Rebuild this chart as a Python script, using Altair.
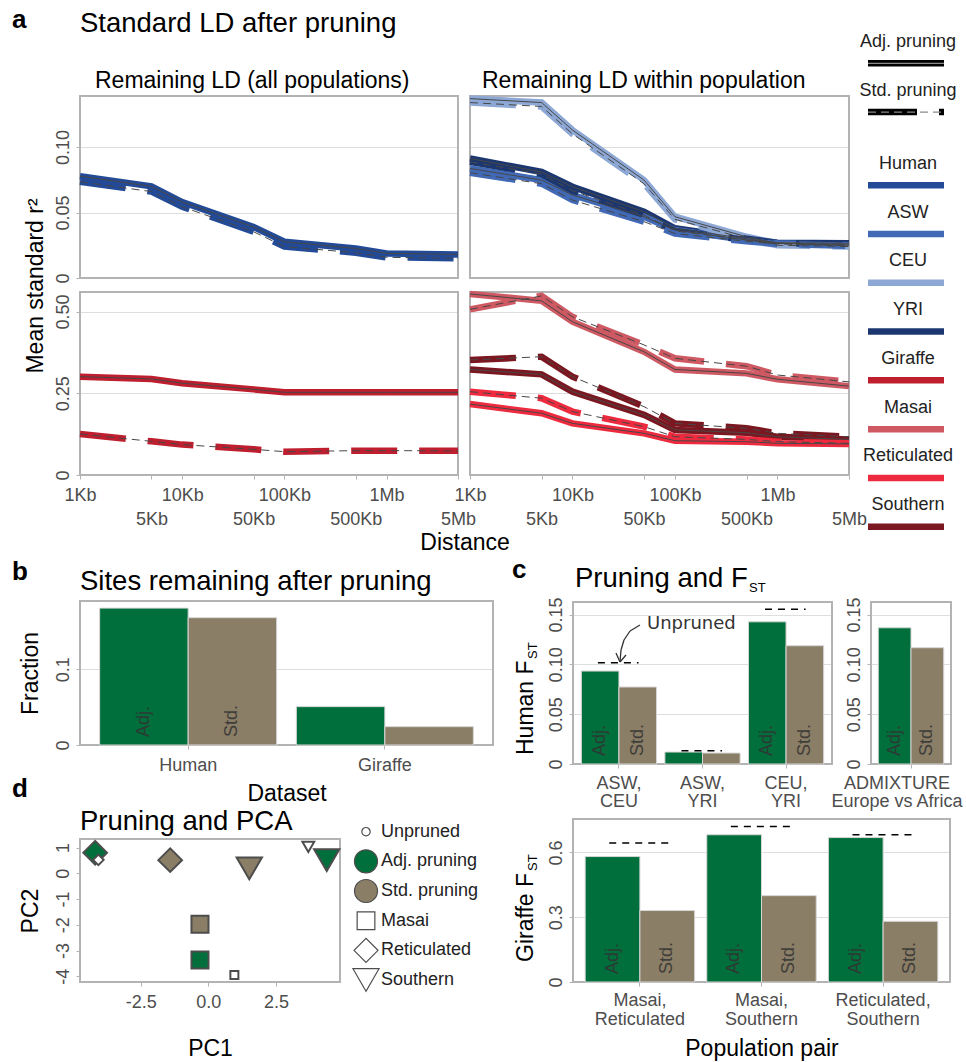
import altair as alt
import pandas as pd

FONT = "Liberation Sans"
AXIS_TEXT = "#4d4d4d"
FRAME = "#b3b3b3"
GRID = "#dedede"
THIN = "#474747"
GREEN = "#006f3b"
TAN = "#8b7e66"
W, H = 966, 1062

# ---------------- panel a : LD decay ----------------
distances = [1000, 5000, 10000, 50000, 100000, 500000, 1000000, 5000000]
distance_labels = ["1Kb", "5Kb", "10Kb", "50Kb", "100Kb", "500Kb", "1Mb", "5Mb"]

populations = ["Human", "ASW", "CEU", "YRI", "Giraffe", "Masai", "Reticulated", "Southern"]
population_colors = ["#234a96", "#4169b5", "#8ea8d6", "#1c3770",
                     "#be1e2d", "#cf5962", "#ee2a3e", "#7b1720"]
prunings = ["Adj.", "Std."]

human_adj = [0.0778, 0.0700, 0.0580, 0.0390, 0.0277, 0.0226, 0.0188, 0.0180]
human_std = [0.0735, 0.0660, 0.0544, 0.0353, 0.0240, 0.0193, 0.0158, 0.0150]
asw_adj = [0.0837, 0.0748, 0.0634, 0.0468, 0.0366, 0.0290, 0.0265, 0.0250]
asw_std = [0.0804, 0.0720, 0.0595, 0.0430, 0.0340, 0.0280, 0.0260, 0.0245]
ceu_adj = [0.1370, 0.1340, 0.1130, 0.0748, 0.0468, 0.0315, 0.0265, 0.0252]
ceu_std = [0.1340, 0.1310, 0.1100, 0.0720, 0.0448, 0.0300, 0.0250, 0.0240]
yri_adj = [0.0913, 0.0810, 0.0697, 0.0506, 0.0380, 0.0300, 0.0270, 0.0265]
yri_std = [0.0888, 0.0794, 0.0667, 0.0480, 0.0360, 0.0290, 0.0265, 0.0260]
giraffe_adj = [0.301, 0.294, 0.281, 0.262, 0.253, 0.253, 0.253, 0.253]
giraffe_std = [0.1255, 0.103, 0.093, 0.0786, 0.0714, 0.0745, 0.0745, 0.074]
masai_adj = [0.554, 0.533, 0.469, 0.377, 0.323, 0.311, 0.293, 0.272]
masai_std = [0.507, 0.548, 0.484, 0.398, 0.357, 0.333, 0.306, 0.285]
reticulated_adj = [0.217, 0.189, 0.158, 0.1275, 0.105, 0.102, 0.097, 0.095]
reticulated_std = [0.255, 0.235, 0.194, 0.148, 0.117, 0.109, 0.102, 0.097]
southern_adj = [0.323, 0.308, 0.255, 0.184, 0.138, 0.1295, 0.117, 0.109]
southern_std = [0.352, 0.362, 0.301, 0.209, 0.158, 0.143, 0.1275, 0.117]

ld_series = {
    ("Human", "Adj."): human_adj, ("Human", "Std."): human_std,
    ("ASW", "Adj."): asw_adj, ("ASW", "Std."): asw_std,
    ("CEU", "Adj."): ceu_adj, ("CEU", "Std."): ceu_std,
    ("YRI", "Adj."): yri_adj, ("YRI", "Std."): yri_std,
    ("Giraffe", "Adj."): giraffe_adj, ("Giraffe", "Std."): giraffe_std,
    ("Masai", "Adj."): masai_adj, ("Masai", "Std."): masai_std,
    ("Reticulated", "Adj."): reticulated_adj, ("Reticulated", "Std."): reticulated_std,
    ("Southern", "Adj."): southern_adj, ("Southern", "Std."): southern_std,
}

ld_top_ticks = [0, 0.05, 0.1]
ld_top_tick_labels = ["0", "0.05", "0.10"]
ld_bottom_ticks = [0, 0.25, 0.5]
ld_bottom_tick_labels = ["0", "0.25", "0.50"]

# ---------------- panel b : sites remaining ----------------
datasets = ["Human", "Giraffe"]
fraction_adj = [0.1806, 0.0506]
fraction_std = [0.168, 0.0242]
fraction_labelled = [True, False]
fraction_ticks = [0, 0.1]
fraction_tick_labels = ["0", "0.1"]

# ---------------- panel c : Fst ----------------
human_pairs = ["ASW,\nCEU", "ASW,\nYRI", "CEU,\nYRI"]
human_fst_adj = [0.0933, 0.012, 0.1427]
human_fst_std = [0.0773, 0.011, 0.1187]
human_fst_unpruned = [0.1017, 0.0133, 0.1553]
human_fst_labelled = [True, False, True]

admixture_pairs = ["ADMIXTURE\nEurope vs Africa"]
admixture_fst_adj = [0.1367]
admixture_fst_std = [0.1167]
admixture_labelled = [True]
human_fst_ticks = [0, 0.05, 0.1, 0.15]
human_fst_tick_labels = ["0", "0.05", "0.10", "0.15"]

giraffe_pairs = ["Masai,\nReticulated", "Masai,\nSouthern", "Reticulated,\nSouthern"]
giraffe_fst_adj = [0.581, 0.682, 0.669]
giraffe_fst_std = [0.331, 0.400, 0.281]
giraffe_fst_unpruned = [0.644, 0.720, 0.682]
giraffe_fst_labelled = [True, True, True]
giraffe_fst_ticks = [0, 0.3, 0.6]
giraffe_fst_tick_labels = ["0", "0.3", "0.6"]

# ---------------- panel d : PCA ----------------
pca_population = ["Reticulated", "Southern", "Masai",
                  "Reticulated", "Southern", "Masai",
                  "Reticulated", "Southern", "Masai"]
pca_treatment = ["Adj. pruning"] * 3 + ["Std. pruning"] * 3 + ["Unpruned"] * 3
pc1 = [-4.18, 4.37, -0.31, -1.41, 1.51, -0.31, -4.06, 3.69, 0.96]
pc2 = [0.80, 0.51, -3.37, 0.51, 0.19, -1.98, 0.52, 1.02, -3.95]
pca_x_ticks = [-2.5, 0, 2.5]
pca_x_tick_labels = ["-2.5", "0.0", "2.5"]
pca_y_ticks = [1, 0, -1, -2, -3, -4]
pca_y_tick_labels = ["1", "0", "-1", "-2", "-3", "-4"]
treatments = ["Unpruned", "Adj. pruning", "Std. pruning"]
treatment_colors = ["white", GREEN, TAN]
pca_populations = ["Masai", "Reticulated", "Southern"]
pca_shapes = ["square", "diamond", "triangle-down"]
pca_big_size = [290, 560, 640]
pca_small_size = [64, 110, 140]

# ---------------- layout: plot boxes (x0, x1, top, bottom) in page pixels ----------------
BOX = {
    "a_tl": (80, 458, 96, 278), "a_tr": (470, 849, 96, 278),
    "a_bl": (80, 458, 292, 475), "a_br": (470, 849, 292, 475),
    "b": (80, 493, 601, 745),
    "c_top": (573, 832, 602, 764), "c_adm": (871, 951, 602, 764),
    "c_bot": (573, 950, 819, 982),
    "d": (80, 340, 839, 982),
}


# ---------------- helpers ----------------
def js_lists(values, labels):
    vals = "[" + ",".join(repr(v) for v in values) + "]"
    labs = "[" + ",".join("'" + s + "'" for s in labels) + "]"
    return vals, labs


def label_expr(values, labels):
    vals, labs = js_lists(values, labels)
    return f"{labs}[indexof({vals}, datum.value)]"


def two_row_label_expr(values, labels):
    vals, labs = js_lists(values, labels)
    i = f"indexof({vals}, datum.value)"
    return f"{i} % 2 == 1 ? ['', {labs}[{i}]] : {labs}[{i}]"


def bottom_axis(box, **kw):
    return alt.Axis(orient="bottom", offset=box[3] - H, labelAngle=0, labelOverlap=False,
                    labelFlush=False, grid=False, **kw)


def left_axis(box, values, labels, grid=True, **kw):
    return alt.Axis(orient="left", offset=-box[0], values=values,
                    labelExpr=label_expr(values, labels), labelAngle=270,
                    labelAlign="center", labelBaseline="bottom", labelPadding=4,
                    labelOverlap=False, grid=grid, **kw)


def grid_only_axis(box, values):
    return alt.Axis(orient="left", offset=-box[0], values=values, labels=False, ticks=False,
                    grid=True, title=None)


def yscale(box, domain):
    return alt.Scale(domain=domain, range=[box[3], box[2]], nice=False, zero=False)


def text_layer(text, x, y, size, color="black", weight="normal", angle=0, font=FONT):
    return alt.Chart(pd.DataFrame({"t": [text]})).mark_text(
        font=font, fontSize=size, fontWeight=weight, color=color, align="left",
        baseline="alphabetic", angle=angle
    ).encode(x=alt.value(x), y=alt.value(y), text="t:N")


def segment(x1, y1, x2, y2):
    return alt.Chart(pd.DataFrame({"k": [0]})).mark_rule(color="#333333", strokeWidth=1.3).encode(
        x=alt.value(x1), y=alt.value(y1), x2=alt.value(x2), y2=alt.value(y2))


def frame(box):
    return alt.Chart(pd.DataFrame({"k": [0]})).mark_rect(
        fill="transparent", stroke=FRAME, strokeWidth=2).encode(
        x=alt.value(box[0]), x2=alt.value(box[1]), y=alt.value(box[2]), y2=alt.value(box[3]))


def ld_frame(pops):
    rows = []
    for p in pops:
        for pr in prunings:
            for d, v in zip(distances, ld_series[(p, pr)]):
                rows.append({"pop": p, "pruning": pr, "dist": d, "r2": v})
    return pd.DataFrame(rows)


def ld_panel(key, pops, ydomain, yticks, ylabels, left, bottom, ytitle=False, xtitle=False):
    box = BOX[key]
    df = ld_frame(pops)
    if bottom:
        kw = {"title": None}
        if xtitle:
            kw = {"title": "Distance", "titleX": 464.5, "titleY": 74,
                  "titleAlign": "center", "titleBaseline": "alphabetic"}
        xaxis = bottom_axis(box, values=distances,
                            labelExpr=two_row_label_expr(distances, distance_labels),
                            labelAlign="center", labelBaseline="top", labelPadding=7,
                            labelLineHeight=24, **kw)
    else:
        xaxis = None
    if left:
        kw = {"title": None}
        if ytitle:
            kw = {"title": "Mean standard r²", "titleAngle": 270, "titleX": -38,
                  "titleY": 285.5, "titleAlign": "center", "titleBaseline": "alphabetic"}
        yaxis = left_axis(box, yticks, ylabels, **kw)
    else:
        yaxis = grid_only_axis(box, yticks)
    x = alt.X("dist:Q", scale=alt.Scale(type="log", domain=[1000, 5000000], range=[box[0], box[1]],
                                        nice=False), axis=xaxis)
    y = alt.Y("r2:Q", scale=yscale(box, ydomain), axis=yaxis)
    color = alt.Color("pop:N", scale=alt.Scale(domain=populations, range=population_colors), legend=None)
    base = alt.Chart(df)
    adj = base.transform_filter("datum.pruning == 'Adj.'")
    std = base.transform_filter("datum.pruning == 'Std.'")
    thick_adj = adj.mark_line(strokeWidth=6.5, strokeCap="butt").encode(x=x, y=y, color=color)
    thick_std = std.mark_line(strokeWidth=6.5, strokeCap="butt", strokeDash=[46, 22]).encode(
        x=x, y=y, color=color)
    thin_adj = adj.mark_line(strokeWidth=1, color=THIN).encode(x=x, y=y, detail="pop:N")
    thin_std = std.mark_line(strokeWidth=1, color=THIN, strokeDash=[8, 5]).encode(
        x=x, y=y, detail="pop:N")
    return alt.layer(thick_adj, thick_std, thin_adj, thin_std)


def bar_panel(key, cats, adj, std, labelled, unpruned, ydomain, xaxis, yaxis):
    box = BOX[key]
    rows = []
    for c, a, s, lab in zip(cats, adj, std, labelled):
        rows.append({"cat": c, "pruning": "Adj.", "v": a, "show": lab})
        rows.append({"cat": c, "pruning": "Std.", "v": s, "show": lab})
    df = pd.DataFrame(rows)
    xs = alt.Scale(domain=cats, range=[box[0], box[1]], paddingInner=0.1, paddingOuter=0.1)
    x = alt.X("cat:N", scale=xs, axis=xaxis)
    xoff = alt.XOffset("pruning:N", scale=alt.Scale(domain=prunings))
    y = alt.Y("v:Q", scale=yscale(box, ydomain), axis=yaxis)
    color = alt.Color("pruning:N", scale=alt.Scale(domain=prunings, range=[GREEN, TAN]), legend=None)
    bars = alt.Chart(df).mark_bar(stroke="#d6d6d6", strokeWidth=1).encode(
        x=x, xOffset=xoff, y=y, color=color)
    labs = alt.Chart(df[df["show"]]).mark_text(
        font=FONT, fontSize=18, angle=270, align="left", baseline="middle",
        color="#333333", opacity=0.85).encode(
        x=x, xOffset=xoff, y=alt.value(box[3] - 8), text="pruning:N")
    layers = [bars, labs]
    if unpruned is not None:
        udf = pd.DataFrame({"cat": cats, "v": unpruned})
        layers.append(alt.Chart(udf).mark_rule(color="black", strokeWidth=1.5, strokeDash=[7, 6]).encode(
            x=alt.X("cat:N", scale=xs, axis=xaxis, bandPosition=0.22),
            x2=alt.X2("cat", bandPosition=0.76), y=y))
    return alt.layer(*layers)


# ---------------- panel a ----------------
a_tl = ld_panel("a_tl", ["Human"], [0, 0.139], ld_top_ticks, ld_top_tick_labels,
                left=True, bottom=False, ytitle=True)
a_tr = ld_panel("a_tr", ["CEU", "YRI", "ASW"], [0, 0.139], ld_top_ticks, ld_top_tick_labels,
                left=False, bottom=False)
a_bl = ld_panel("a_bl", ["Giraffe"], [0, 0.56], ld_bottom_ticks, ld_bottom_tick_labels,
                left=True, bottom=True, xtitle=True)
a_br = ld_panel("a_br", ["Masai", "Southern", "Reticulated"], [0, 0.56], ld_bottom_ticks,
                ld_bottom_tick_labels, left=False, bottom=True)

# legend of panel a
legend_labels = ["Adj. pruning", "Std. pruning"] + populations
legend_slots = [0, 1] + [i + 2.5 for i in range(len(populations))]
leg_df = pd.DataFrame({"label": legend_labels, "slot": legend_slots})
leg_y = alt.Y("slot:Q", scale=alt.Scale(domain=[0, 9.5], range=[63.3, 526.7], nice=False, zero=False),
              axis=None)
leg_base = alt.Chart(leg_df)
lx1, lx2 = alt.value(868), alt.value(944)
leg_adj = leg_base.transform_filter("datum.label == 'Adj. pruning'")
leg_std = leg_base.transform_filter("datum.label == 'Std. pruning'")
legend_a = alt.layer(
    leg_base.mark_text(font=FONT, fontSize=18, color="#222222", align="center",
                       baseline="middle", dy=-21.5).encode(x=alt.value(908), y=leg_y, text="label:N"),
    leg_base.transform_filter(alt.FieldOneOfPredicate(field="label", oneOf=populations)).mark_rule(
        strokeWidth=6.5).encode(
        x=lx1, x2=lx2, y=leg_y,
        color=alt.Color("label:N", scale=alt.Scale(domain=populations, range=population_colors),
                        legend=None)),
    leg_adj.mark_rule(strokeWidth=6.5, color="black").encode(x=lx1, x2=lx2, y=leg_y),
    leg_adj.mark_rule(strokeWidth=1.2, color="#8a8a8a").encode(x=lx1, x2=lx2, y=leg_y),
    leg_std.mark_rule(strokeWidth=6.5, color="black", strokeDash=[49, 22]).encode(x=lx1, x2=lx2, y=leg_y),
    leg_std.mark_rule(strokeWidth=1.2, color="#8a8a8a", strokeDash=[8, 5]).encode(x=lx1, x2=lx2, y=leg_y),
)

# ---------------- panel b ----------------
b_chart = bar_panel(
    "b", datasets, fraction_adj, fraction_std, fraction_labelled, None, [0, 0.19],
    bottom_axis(BOX["b"], labelPadding=7, title="Dataset", titleX=286.5, titleY=55,
                titleAlign="center", titleBaseline="alphabetic"),
    left_axis(BOX["b"], fraction_ticks, fraction_tick_labels, title="Fraction", titleAngle=270,
              titleX=-43, titleY=673, titleAlign="center", titleBaseline="alphabetic"))

# ---------------- panel c ----------------
multi_line = "split(datum.label, '\\n')"
c_top = bar_panel(
    "c_top", human_pairs, human_fst_adj, human_fst_std, human_fst_labelled, human_fst_unpruned,
    [0, 0.1626],
    bottom_axis(BOX["c_top"], labelExpr=multi_line, labelPadding=6, labelLineHeight=18, title=None),
    left_axis(BOX["c_top"], human_fst_ticks, human_fst_tick_labels, title=None))
c_adm = bar_panel(
    "c_adm", admixture_pairs, admixture_fst_adj, admixture_fst_std, admixture_labelled, None,
    [0, 0.1626],
    bottom_axis(BOX["c_adm"], labelExpr=multi_line, labelPadding=6, labelLineHeight=18,
                labelOffset=-14, title=None),
    left_axis(BOX["c_adm"], human_fst_ticks, human_fst_tick_labels, title=None))
c_bot = bar_panel(
    "c_bot", giraffe_pairs, giraffe_fst_adj, giraffe_fst_std, giraffe_fst_labelled,
    giraffe_fst_unpruned, [0, 0.755],
    bottom_axis(BOX["c_bot"], labelExpr=multi_line, labelPadding=5, labelLineHeight=19,
                title="Population pair", titleX=761.5, titleY=73, titleAlign="center",
                titleBaseline="alphabetic"),
    left_axis(BOX["c_bot"], giraffe_fst_ticks, giraffe_fst_tick_labels, title=None))

# ---------------- panel d ----------------
d_df = pd.DataFrame({"pop": pca_population, "treat": pca_treatment, "pc1": pc1, "pc2": pc2})
size_keys, size_vals = [], []
for p, big, small in zip(pca_populations, pca_big_size, pca_small_size):
    for t in treatments:
        size_keys.append(p + "|" + t)
        size_vals.append(small if t == "Unpruned" else big)
bd = BOX["d"]
d_points = alt.Chart(d_df).transform_calculate(key="datum.pop + '|' + datum.treat").mark_point(
    filled=True, stroke="#4d4d4d", strokeWidth=2, opacity=1).encode(
    x=alt.X("pc1:Q", scale=alt.Scale(domain=[-4.74, 4.86], range=[bd[0], bd[1]], nice=False, zero=False),
            axis=bottom_axis(bd, values=pca_x_ticks,
                             labelExpr=label_expr(pca_x_ticks, pca_x_tick_labels), labelPadding=7,
                             title="PC1", titleX=210, titleY=73, titleAlign="center",
                             titleBaseline="alphabetic")),
    y=alt.Y("pc2:Q", scale=yscale(bd, [-4.22, 1.33]),
            axis=left_axis(bd, pca_y_ticks, pca_y_tick_labels, grid=False, title="PC2",
                           titleAngle=270, titleX=-43, titleY=910.5, titleAlign="center",
                           titleBaseline="alphabetic")),
    shape=alt.Shape("pop:N", scale=alt.Scale(domain=pca_populations, range=pca_shapes), legend=None),
    color=alt.Color("treat:N", scale=alt.Scale(domain=treatments, range=treatment_colors), legend=None),
    size=alt.Size("key:N", scale=alt.Scale(type="ordinal", domain=size_keys, range=size_vals), legend=None),
)

dleg_items = treatments + pca_populations
dleg_shapes = ["circle", "circle", "circle"] + pca_shapes
dleg_fills = treatment_colors + ["white", "white", "white"]
dleg_sizes = [70, 529, 529, 313, 576, 680]
dleg_df = pd.DataFrame({"item": dleg_items, "slot": list(range(len(dleg_items)))})
dleg_y = alt.Y("slot:Q", scale=alt.Scale(domain=[0, 5], range=[831.7, 980], nice=False, zero=False),
               axis=None)
d_legend = alt.layer(
    alt.Chart(dleg_df).mark_point(filled=True, stroke="#4d4d4d", strokeWidth=1.2, opacity=1).encode(
        x=alt.value(366), y=dleg_y,
        shape=alt.Shape("item:N", scale=alt.Scale(domain=dleg_items, range=dleg_shapes), legend=None),
        color=alt.Color("item:N", scale=alt.Scale(domain=dleg_items, range=dleg_fills), legend=None),
        size=alt.Size("item:N", scale=alt.Scale(type="ordinal", domain=dleg_items, range=dleg_sizes),
                      legend=None)),
    alt.Chart(dleg_df).mark_text(font=FONT, fontSize=18, color="#222222", align="left",
                                 baseline="middle").encode(x=alt.value(381), y=dleg_y, text="item:N"),
)

# ---------------- titles and annotations ----------------
annotations = [
    text_layer("a", 12, 28, 26, weight="bold"),
    text_layer("Standard LD after pruning", 80, 32, 27.5),
    text_layer("Remaining LD (all populations)", 95, 88, 23),
    text_layer("Remaining LD within population", 482, 88, 23),
    text_layer("b", 12, 580, 26, weight="bold"),
    text_layer("Sites remaining after pruning", 80, 590, 27.5),
    text_layer("c", 512, 578, 26, weight="bold"),
    text_layer("Pruning and F", 575, 587, 27.5),
    text_layer("ST", 749, 592, 13),
    text_layer("Human F", 533, 755, 23, angle=270),
    text_layer("ST", 537, 659, 13, angle=270),
    text_layer("Giraffe F", 533, 962, 23, angle=270),
    text_layer("ST", 537, 871, 13, angle=270),
    text_layer("Unpruned", 647, 629, 18, color="#333333", font="DejaVu Sans"),
    segment(640, 625, 630, 631), segment(630, 631, 624, 640), segment(624, 640, 621, 650),
    segment(621, 650, 620, 662), segment(620, 662, 616, 653), segment(620, 662, 626, 655),
    text_layer("d", 12, 797, 26, weight="bold"),
    text_layer("Pruning and PCA", 80, 830, 27.5),
]

frames = [frame(BOX[k]) for k in BOX]

chart = alt.layer(
    *frames, a_tl, a_tr, a_bl, a_br, legend_a, b_chart, c_top, c_adm, c_bot, d_points, d_legend,
    *annotations
).resolve_scale(
    x="independent", y="independent", color="independent", shape="independent",
    size="independent", xOffset="independent"
).resolve_axis(x="independent", y="independent").properties(
    width=W, height=H, autosize=alt.AutoSizeParams(type="none"), padding=0, background="white"
).configure_view(strokeWidth=0).configure_axis(
    labelFont=FONT, labelFontSize=18, labelColor=AXIS_TEXT, tickColor=FRAME, tickWidth=1,
    tickSize=4, domain=False, gridColor=GRID, gridWidth=1, titleFont=FONT, titleFontSize=23,
    titleColor="black", titleFontWeight="normal"
).configure_text(font=FONT)

chart.save("out.html", embed_options={"renderer": "svg", "actions": False})
